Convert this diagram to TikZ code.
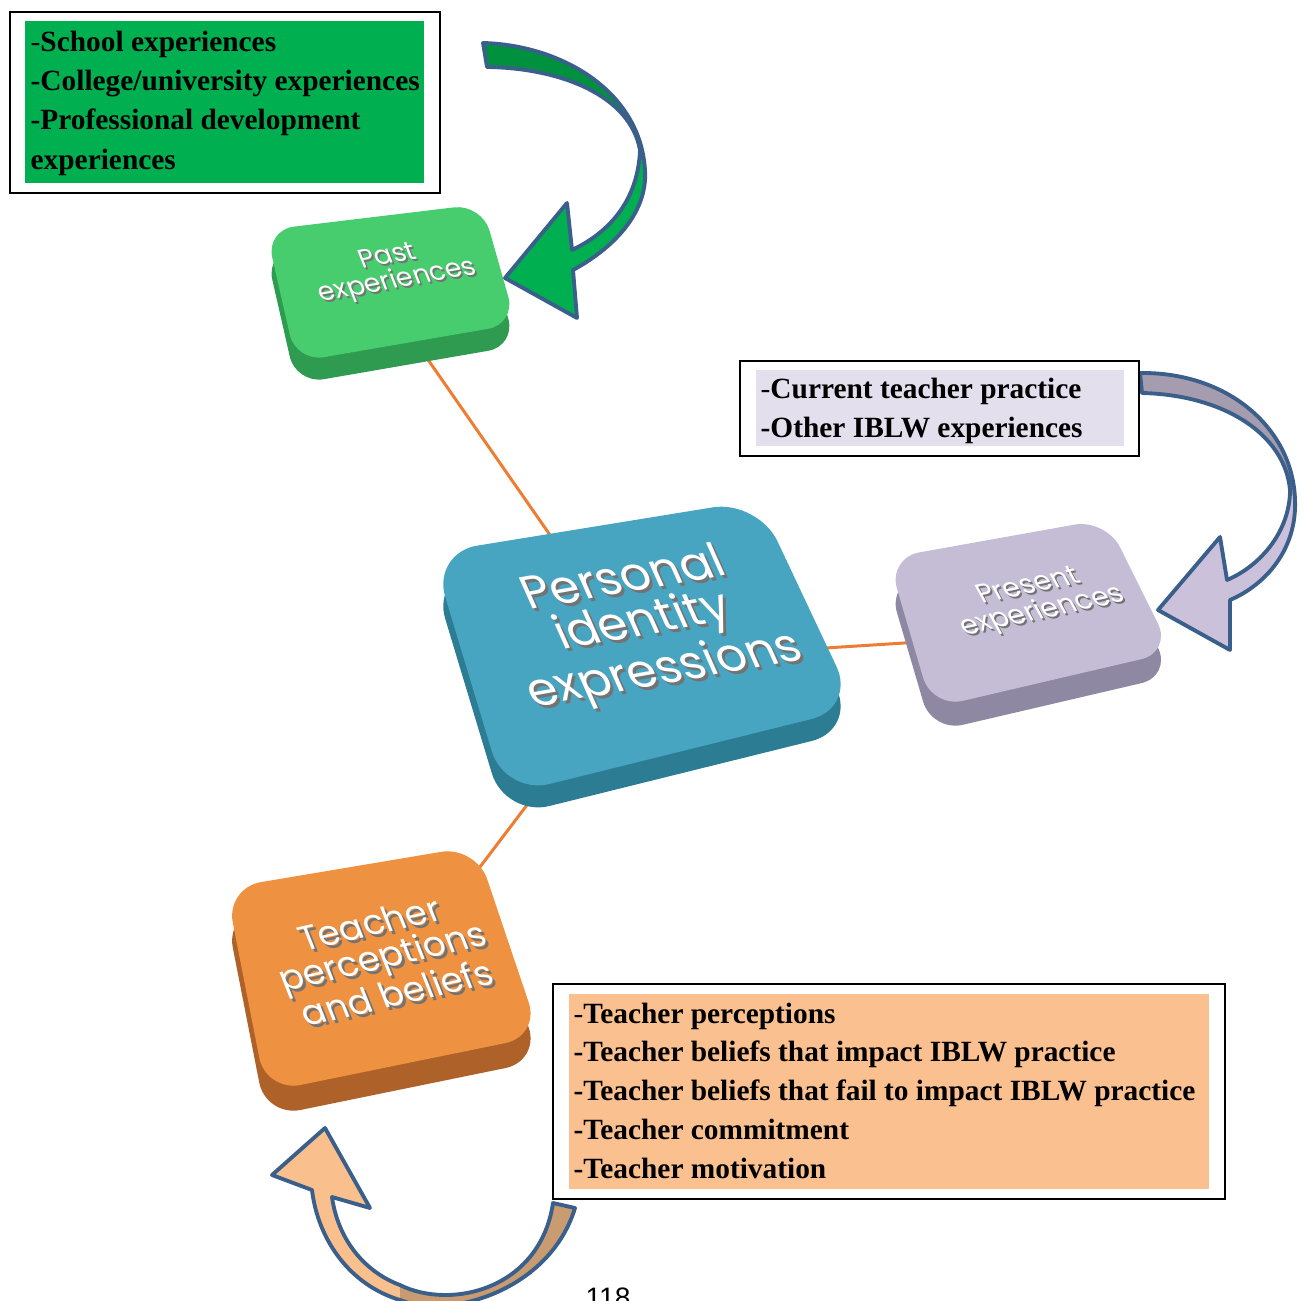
\documentclass[tikz,border=0pt]{standalone}
\usepackage{fontspec}
\setmainfont{Liberation Serif}
\newfontfamily\sqfont{Poppins}
\newfontfamily\pgnfont{Liberation Sans}
\usepackage{tikz}

\definecolor{listgreen}{HTML}{00B050}
\definecolor{listlilac}{HTML}{E4DFEC}
\definecolor{listpeach}{HTML}{FAC090}
\definecolor{conncol}{HTML}{ED7D31}
\definecolor{arrline}{HTML}{3A5F8B}
\definecolor{greenlight}{HTML}{00B050}
\definecolor{greendark}{HTML}{00913F}
\definecolor{lilaclight}{HTML}{CCC1DA}
\definecolor{lilacdark}{HTML}{A59CB0}
\definecolor{peachlight}{HTML}{F9C08E}
\definecolor{peachdark}{HTML}{C99B70}
\definecolor{pasttop}{HTML}{47CC6E}
\definecolor{pastside}{HTML}{2E9B50}
\definecolor{pietop}{HTML}{47A5C2}
\definecolor{pieside}{HTML}{2C7C93}
\definecolor{prestop}{HTML}{C5BDD6}
\definecolor{presside}{HTML}{8F88A2}
\definecolor{teachtop}{HTML}{EE9140}
\definecolor{teachside}{HTML}{AE6129}

\begin{document}
\begin{tikzpicture}[x=0.01cm,y=-0.01cm,
  frame/.style={draw=black,line width=0.6pt,fill=white},
  listtext/.style={anchor=north west,inner sep=0pt,align=left,
                   font={\fontsize{8.35}{11.2}\selectfont\bfseries}},
  conn/.style={conncol,line width=0.85pt},
  blockarr/.style={draw=arrline,line width=1.1pt,line join=round},
  sqtext/.style={text=white,align=center,inner sep=0pt},
  sqshade/.style={text=black!55,align=center,inner sep=0pt}]

  \useasboundingbox (0,0) rectangle (1304,1301);
  \clip (0,0) rectangle (1304,1301);

  % centres of the four blocks
  \coordinate (pastc)  at (376,285);
  \coordinate (piec)   at (637,660);
  \coordinate (presc)  at (1030,635);
  \coordinate (teachc) at (398,975);

  \draw[conn] (pastc) -- (piec);
  \draw[conn] (piec) -- (presc);
  \draw[conn] (piec) -- (teachc);

  % blocks: side first, then top face
  \fill[pastside,rounded corners=8pt,shift={(0,22)}]
    (266,230) -- (482,204) -- (516,324) -- (296,362) -- cycle;
  \fill[pasttop,rounded corners=8pt]
    (266,230) -- (482,204) -- (516,324) -- (296,362) -- cycle;

  \fill[pieside,rounded corners=13pt,shift={(0,22)}]
    (432,553) -- (758,500) -- (856,708) -- (505,795) -- cycle;
  \fill[pietop,rounded corners=13pt]
    (432,553) -- (758,500) -- (856,708) -- (505,795) -- cycle;

  \fill[presside,rounded corners=9pt,shift={(0,24)}]
    (888,558) -- (1106,519) -- (1172,652) -- (932,708) -- cycle;
  \fill[prestop,rounded corners=9pt]
    (888,558) -- (1106,519) -- (1172,652) -- (932,708) -- cycle;

  \fill[teachside,rounded corners=10pt,shift={(0,25)}]
    (226,888) -- (476,846) -- (540,1036) -- (266,1092) -- cycle;
  \fill[teachtop,rounded corners=10pt]
    (226,888) -- (476,846) -- (540,1036) -- (266,1092) -- cycle;

  % block labels (shadow + text)
  \node[sqshade,rotate=10,xslant=-0.2,font={\sqfont\fontsize{7.5}{7.2}\selectfont}]
    (pastsh) at (395,272) {Past\\experiences};
  \node[sqtext,rotate=10,xslant=-0.2,font={\sqfont\fontsize{7.5}{7.2}\selectfont}]
    (past) at (393,270) {Past\\experiences};
  \node[sqshade,rotate=10,xslant=-0.25,font={\sqfont\fontsize{13.4}{12.8}\selectfont}]
    (piesh) at (648,630) {Personal\\identity\\expressions};
  \node[sqtext,rotate=10,xslant=-0.25,font={\sqfont\fontsize{13.4}{12.8}\selectfont}]
    (pie) at (645,627) {Personal\\identity\\expressions};
  \node[sqshade,rotate=12,xslant=-0.3,font={\sqfont\fontsize{7.8}{7.8}\selectfont}]
    (pressh) at (1038,602) {Present\\experiences};
  \node[sqtext,rotate=12,xslant=-0.3,font={\sqfont\fontsize{7.8}{7.8}\selectfont}]
    (pres) at (1036,600) {Present\\experiences};
  \node[sqshade,rotate=13,xslant=-0.15,font={\sqfont\fontsize{10}{9.8}\selectfont}]
    (teachsh) at (386,961) {Teacher\\perceptions\\and beliefs};
  \node[sqtext,rotate=13,xslant=-0.15,font={\sqfont\fontsize{10}{9.8}\selectfont}]
    (teach) at (383,958) {Teacher\\perceptions\\and beliefs};

  % curved block arrows
  \fill[greenlight]
    (483,43) .. controls (560,45) and (640,90) .. (645,170)
    .. controls (648,215) and (610,250) .. (573,270)
    -- (577,318) -- (505,278) -- (567,203) -- (572,250)
    .. controls (610,232) and (638,200) .. (640,150)
    .. controls (630,95) and (560,68) .. (487,67) -- cycle;
  \fill[greendark]
    (483,43) .. controls (560,45) and (640,90) .. (645,170)
    -- (640,150) .. controls (630,95) and (560,68) .. (487,67) -- cycle;
  \draw[blockarr]
    (483,43) .. controls (560,45) and (640,90) .. (645,170)
    .. controls (648,215) and (610,250) .. (573,270)
    -- (577,318) -- (505,278) -- (567,203) -- (572,250)
    .. controls (610,232) and (638,200) .. (640,150)
    .. controls (630,95) and (560,68) .. (487,67) -- cycle;

  \fill[lilaclight]
    (1140,373) .. controls (1230,372) and (1293,430) .. (1295,500)
    .. controls (1297,550) and (1265,585) .. (1230,600)
    -- (1230,650) -- (1158,610) -- (1220,537) -- (1227,580)
    .. controls (1262,565) and (1290,530) .. (1290,490)
    .. controls (1285,435) and (1225,395) .. (1142,393) -- cycle;
  \fill[lilacdark]
    (1140,373) .. controls (1230,372) and (1293,430) .. (1295,500)
    -- (1290,490) .. controls (1285,435) and (1225,395) .. (1142,393) -- cycle;
  \draw[blockarr]
    (1140,373) .. controls (1230,372) and (1293,430) .. (1295,500)
    .. controls (1297,550) and (1265,585) .. (1230,600)
    -- (1230,650) -- (1158,610) -- (1220,537) -- (1227,580)
    .. controls (1262,565) and (1290,530) .. (1290,490)
    .. controls (1285,435) and (1225,395) .. (1142,393) -- cycle;

  \fill[peachlight]
    (575,1208) .. controls (550,1290) and (450,1320) .. (400,1300)
    .. controls (350,1285) and (318,1240) .. (312,1190)
    -- (272,1175) -- (325,1128) -- (370,1208) -- (332,1197)
    .. controls (338,1240) and (365,1272) .. (400,1285)
    .. controls (450,1310) and (540,1290) .. (553,1203) -- cycle;
  \fill[peachdark]
    (575,1208) .. controls (550,1290) and (450,1320) .. (400,1300)
    -- (400,1285) .. controls (450,1310) and (540,1290) .. (553,1203) -- cycle;
  \draw[blockarr]
    (575,1208) .. controls (550,1290) and (450,1320) .. (400,1300)
    .. controls (350,1285) and (318,1240) .. (312,1190)
    -- (272,1175) -- (325,1128) -- (370,1208) -- (332,1197)
    .. controls (338,1240) and (365,1272) .. (400,1285)
    .. controls (450,1310) and (540,1290) .. (553,1203) -- cycle;

  % list boxes
  \draw[frame] (10,12) rectangle (440,193);
  \fill[listgreen] (25,21) rectangle (424,183);
  \node[listtext] (pastlist) at (30,30)
    {{\mdseries-}School experiences\\-College/university experiences\\
     -Professional development\\experiences};

  \draw[frame] (740,361) rectangle (1139,456);
  \fill[listlilac] (756,370) rectangle (1124,446);
  \node[listtext] (preslist) at (760,377)
    {{\mdseries-}Current teacher practice\\-Other IBLW experiences};

  \draw[frame] (553,984) rectangle (1225,1199);
  \fill[listpeach] (569,994) rectangle (1209,1189);
  \node[listtext,font={\fontsize{8.35}{11.05}\selectfont\bfseries}] (teachlist) at (573,1002)
    {{\mdseries-}Teacher perceptions\\-Teacher beliefs that impact IBLW practice\\
     -Teacher beliefs that fail to impact IBLW practice\\-Teacher commitment\\
     -Teacher motivation};

  \node[font={\pgnfont\fontsize{8}{9}\selectfont},anchor=base] (pgno) at (608,1307) {118};

\end{tikzpicture}
\end{document}
